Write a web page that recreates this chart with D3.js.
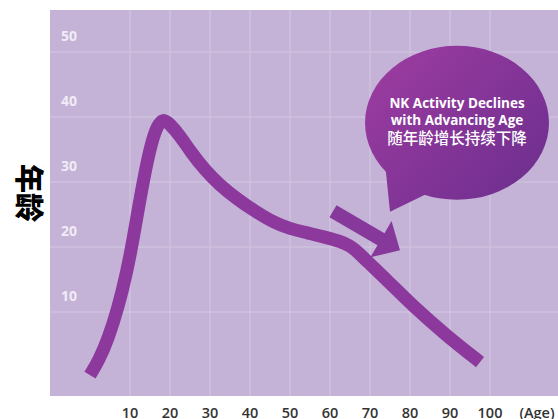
<!DOCTYPE html>
<html>
<head>
<meta charset="utf-8">
<script src="https://cdn.jsdelivr.net/npm/d3@7"></script>
<style>
  body { margin: 0; background: #fff; }
  svg { display: block; }
</style>
</head>
<body>
<svg id="chart" width="558" height="419"></svg>
<script>
  // curve (age, activity)
  const ages   = [0, 2.25, 4.5, 7, 9.25, 10.75, 12.25, 13.75, 15.25, 16.75, 18.25, 20, 22.5, 25, 28.75, 32.5, 36.75, 40.75, 45.75, 50, 54.25, 58.75, 62.5, 65, 67, 69.25, 74.25, 80.75, 89.25, 97.5];
  const values = [0.3, 2.6, 5.8, 10.6, 16.3, 21.1, 26.5, 31.5, 35.8, 38.6, 39.8, 38.9, 37.1, 34.8, 31.8, 29.5, 27.4, 25.7, 23.8, 22.8, 22.2, 21.5, 20.9, 20.2, 19.2, 17.8, 14.9, 10.9, 6.3, 2.3];

  const xTicks = [10, 20, 30, 40, 50, 60, 70, 80, 90, 100];
  const yTicks = [10, 20, 30, 40, 50];
  const xUnit = '(Age)';
  const yTitle = '年龄';
  const bubbleLines = ['NK Activity Declines', 'with Advancing Age', '随年龄增长持续下降'];

  const svg = d3.select('#chart');
  const x = d3.scaleLinear().domain([0, 100]).range([90, 490]);
  const y = d3.scaleLinear().domain([0, 50]).range([377, 52]);

  const defs = svg.append('defs');
  const grad = defs.append('linearGradient')
    .attr('id', 'bubbleGrad')
    .attr('gradientUnits', 'userSpaceOnUse')
    .attr('x1', 380).attr('y1', 55).attr('x2', 540).attr('y2', 210);
  grad.append('stop').attr('offset', 0).attr('stop-color', '#9c3ba0');
  grad.append('stop').attr('offset', 1).attr('stop-color', '#6a2e8e');

  // plot background
  svg.append('rect')
    .attr('x', 50).attr('y', 10)
    .attr('width', 508).attr('height', 386)
    .attr('fill', '#c4b3d6');

  svg.append('g').selectAll('line')
    .data(yTicks).enter().append('line')
    .attr('x1', 50).attr('x2', 558)
    .attr('y1', d => y(d)).attr('y2', d => y(d))
    .attr('stroke', '#d3c7e3').attr('stroke-width', 1);

  svg.append('g').selectAll('line')
    .data(xTicks).enter().append('line')
    .attr('x1', d => x(d)).attr('x2', d => x(d))
    .attr('y1', 10).attr('y2', 396)
    .attr('stroke', '#d3c7e3').attr('stroke-width', 1);

  svg.append('g').selectAll('text')
    .data(yTicks).enter().append('text')
    .attr('x', 61).attr('y', d => y(d) - 11)
    .attr('fill', '#f1ebf6')
    .style('font-family', 'Open Sans')
    .style('font-weight', 700)
    .style('font-size', '14px')
    .text(d => d);

  svg.append('g').selectAll('text')
    .data(xTicks).enter().append('text')
    .attr('x', d => x(d)).attr('y', 418)
    .attr('text-anchor', 'middle')
    .attr('fill', '#333')
    .style('font-family', 'Open Sans')
    .style('font-weight', 600)
    .style('font-size', '14.5px')
    .text(d => d);

  svg.append('text')
    .attr('x', 537).attr('y', 418)
    .attr('text-anchor', 'middle')
    .attr('fill', '#333')
    .style('font-family', 'Open Sans')
    .style('font-weight', 600)
    .style('font-size', '14.5px')
    .text(xUnit);

  svg.append('text')
    .attr('transform', 'translate(18,193) rotate(90)')
    .attr('text-anchor', 'middle')
    .attr('fill', '#000')
    .style('font-family', 'Noto Sans CJK SC')
    .style('font-weight', 900)
    .style('font-size', '29px')
    .text(yTitle);

  // main curve
  const pts = ages.map((a, i) => [a, values[i]]);
  const line = d3.line()
    .x(d => x(d[0]))
    .y(d => y(d[1]))
    .curve(d3.curveBasis);

  svg.append('path')
    .datum(pts)
    .attr('d', line)
    .attr('fill', 'none')
    .attr('stroke', '#8c389d')
    .attr('stroke-width', 13)
    .attr('stroke-linecap', 'butt');

  // arrow
  const a0 = [x(60.75), y(25.5)];
  const a1 = [x(77.5), y(19.5)];
  const len = Math.hypot(a1[0] - a0[0], a1[1] - a0[1]);
  const ang = Math.atan2(a1[1] - a0[1], a1[0] - a0[0]) * 180 / Math.PI;
  const hl = 22;
  svg.append('path')
    .attr('transform', `translate(${a0[0]},${a0[1]}) rotate(${ang})`)
    .attr('d', `M0,-7 L${len - hl},-7 L${len - hl},-21 L${len},0 L${len - hl},21 L${len - hl},7 L0,7 Z`)
    .attr('fill', '#86389b');

  // speech bubble
  const bc = [x(91.75), y(39.1)];
  const bubble = svg.append('g').attr('fill', 'url(#bubbleGrad)');
  bubble.append('ellipse')
    .attr('cx', bc[0]).attr('cy', bc[1])
    .attr('rx', 92).attr('ry', 77);
  bubble.append('path')
    .attr('d', `M${bc[0] - 72},${bc[1] + 40} L${bc[0] - 67},${bc[1] + 89} L${bc[0] - 28},${bc[1] + 70} Z`);

  const bubbleY = [107.5, 124.5, 144];
  svg.append('g').selectAll('text')
    .data(bubbleLines).enter().append('text')
    .attr('x', bc[0]).attr('y', (d, i) => bubbleY[i])
    .attr('text-anchor', 'middle')
    .attr('fill', '#fff')
    .style('font-family', (d, i) => i < 2 ? 'Open Sans' : 'Noto Sans CJK SC')
    .style('font-weight', (d, i) => i < 2 ? 700 : 500)
    .style('font-size', (d, i) => i < 2 ? '13.5px' : '15.5px')
    .text(d => d);
</script>
</body>
</html>
